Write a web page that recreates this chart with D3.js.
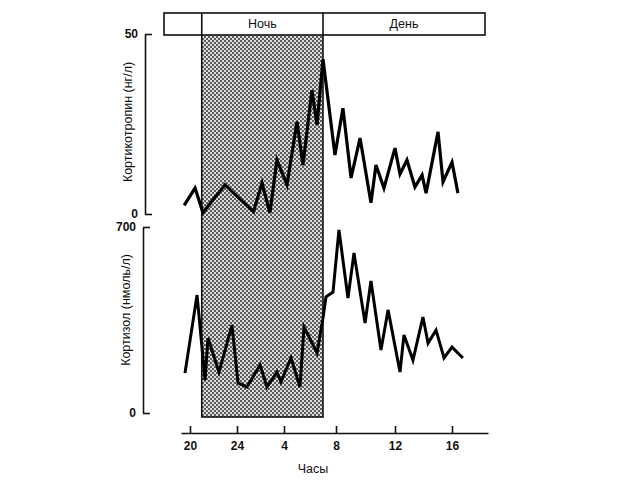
<!DOCTYPE html>
<html lang="ru">
<head>
  <meta charset="UTF-8">
  <title>Кортикотропин и кортизол</title>
  <script src="https://d3js.org/d3.v7.min.js"></script>
  <style>
    body { margin: 0; background: #fff; }
    svg text { font-family: "Liberation Sans", Arial, sans-serif; fill: #111; }
    .axis path, .axis line { stroke: #111; stroke-width: 1.6; fill: none; }
    .axis text { font-size: 12px; font-weight: bold; }
    .lbl { font-size: 12.5px; }
  </style>
</head>
<body>
<svg width="640" height="480"></svg>
<script>
  // hours counted from midnight of the first day (24 = midnight, 28 = 4 am ...)
  const tickHours = [20, 24, 28, 32, 36, 40];
  const tickLabels = ["20", "24", "4", "8", "12", "16"];
  const night = [21, 31];

  const acthHours = [19.5, 20.43, 21.1, 22.98, 25.4, 26.13, 26.8, 27.4, 28.23, 29.0, 29.46, 30.15, 30.54, 31.0,
                     31.92, 32.47, 33.02, 33.63, 34.37, 34.71, 35.25, 36.0, 36.35, 36.84, 37.4, 37.9, 38.18, 39.02, 39.37, 40.0, 40.42];
  const acthValues = [2.4, 7.2, 0.4, 8.1, 0.6, 8.6, 0.3, 15, 8.1, 25.6, 13.6, 34.4, 24.7, 43,
                      16.4, 29.4, 10, 21.1, 3.1, 13.6, 7.2, 18.3, 11.1, 15, 7.5, 10.8, 5.8, 22.8, 8.9, 14.4, 5.8];

  const cortHours = [19.57, 20.6, 21.28, 21.53, 22.47, 23.57, 24.09, 24.85, 25.96, 26.55, 27.4, 27.74, 28.54, 29.23,
                     29.54, 30.54, 31.0, 31.23, 31.77, 32.2, 32.81, 33.22, 33.97, 34.37, 35.05, 35.53, 36.35, 36.63,
                     37.26, 37.96, 38.32, 38.88, 39.44, 40.0, 40.77];
  const cortValues = [150, 444, 124, 282, 154, 331, 113, 98, 181, 98, 154, 117, 207, 98,
                      324, 226, 357, 437, 455, 689, 433, 602, 339, 497, 237, 388, 154, 294,
                      199, 361, 263, 312, 207, 248, 207];

  const svg = d3.select("svg");

  // the original time axis is hand drawn, so the hour scale is piecewise
  const x = d3.scaleLinear()
      .domain([19.23, 20, 24, 28, 32, 36, 40, 42.55])
      .range([181, 190, 237, 284, 336, 395, 452, 488]);
  const yA = d3.scaleLinear().domain([0, 50]).range([214, 34]);
  const yC = d3.scaleLinear().domain([0, 700]).range([413, 227]);

  const defs = svg.append("defs");
  const pat = defs.append("pattern")
      .attr("id", "dots")
      .attr("patternUnits", "userSpaceOnUse")
      .attr("width", 4).attr("height", 4);
  pat.append("rect").attr("width", 4).attr("height", 4).attr("fill", "#dedede");
  pat.append("circle").attr("cx", 1).attr("cy", 1).attr("r", 0.95).attr("fill", "#222");
  pat.append("circle").attr("cx", 3).attr("cy", 3).attr("r", 0.95).attr("fill", "#222");

  // night band
  svg.append("rect")
      .attr("x", x(night[0])).attr("y", 34)
      .attr("width", x(night[1]) - x(night[0])).attr("height", 383)
      .attr("fill", "url(#dots)")
      .attr("stroke", "#111").attr("stroke-width", 1.6);

  // header strip
  svg.append("rect")
      .attr("x", 164).attr("y", 13).attr("width", 321).attr("height", 22)
      .attr("fill", "#fff").attr("stroke", "#111").attr("stroke-width", 1.6);
  svg.selectAll(".div").data(night).enter().append("line")
      .attr("x1", d => x(d)).attr("x2", d => x(d))
      .attr("y1", 13).attr("y2", 35)
      .attr("stroke", "#111").attr("stroke-width", 1.6);
  svg.append("text").attr("class", "lbl")
      .attr("x", (x(night[0]) + x(night[1])) / 2).attr("y", 28)
      .attr("text-anchor", "middle").text("Ночь");
  svg.append("text").attr("class", "lbl")
      .attr("x", (x(night[1]) + 485) / 2).attr("y", 28)
      .attr("text-anchor", "middle").text("День");

  // y axes
  svg.append("g").attr("class", "axis")
      .attr("transform", "translate(145,0)")
      .call(d3.axisLeft(yA).tickValues([0, 50]).tickSizeInner(-7).tickSizeOuter(0).tickPadding(7));
  svg.append("g").attr("class", "axis")
      .attr("transform", "translate(143,0)")
      .call(d3.axisLeft(yC).tickValues([0, 700]).tickSizeInner(-7).tickSizeOuter(0).tickPadding(7));

  svg.append("text").attr("class", "lbl")
      .attr("transform", "translate(132,122) rotate(-90)")
      .attr("text-anchor", "middle").text("Кортикотропин (нг/л)");
  svg.append("text").attr("class", "lbl")
      .attr("transform", "translate(130,310) rotate(-90)")
      .attr("text-anchor", "middle").text("Кортизол (нмоль/л)");

  // x axis
  svg.append("g").attr("class", "axis")
      .attr("transform", "translate(0,433)")
      .call(d3.axisBottom(x).tickValues(tickHours)
          .tickFormat((d, i) => tickLabels[i])
          .tickSizeInner(-7).tickSizeOuter(0).tickPadding(8));
  svg.append("text").attr("class", "lbl")
      .attr("x", 313).attr("y", 473).attr("text-anchor", "middle").text("Часы");

  // series
  const lineA = d3.line().x(i => x(acthHours[i])).y(i => yA(acthValues[i]));
  const lineC = d3.line().x(i => x(cortHours[i])).y(i => yC(cortValues[i]));

  svg.append("path")
      .attr("d", lineA(d3.range(acthHours.length)))
      .attr("fill", "none").attr("stroke", "#000").attr("stroke-width", 3.2)
      .attr("stroke-linejoin", "miter");
  svg.append("path")
      .attr("d", lineC(d3.range(cortHours.length)))
      .attr("fill", "none").attr("stroke", "#000").attr("stroke-width", 3)
      .attr("stroke-linejoin", "miter");
</script>
</body>
</html>
